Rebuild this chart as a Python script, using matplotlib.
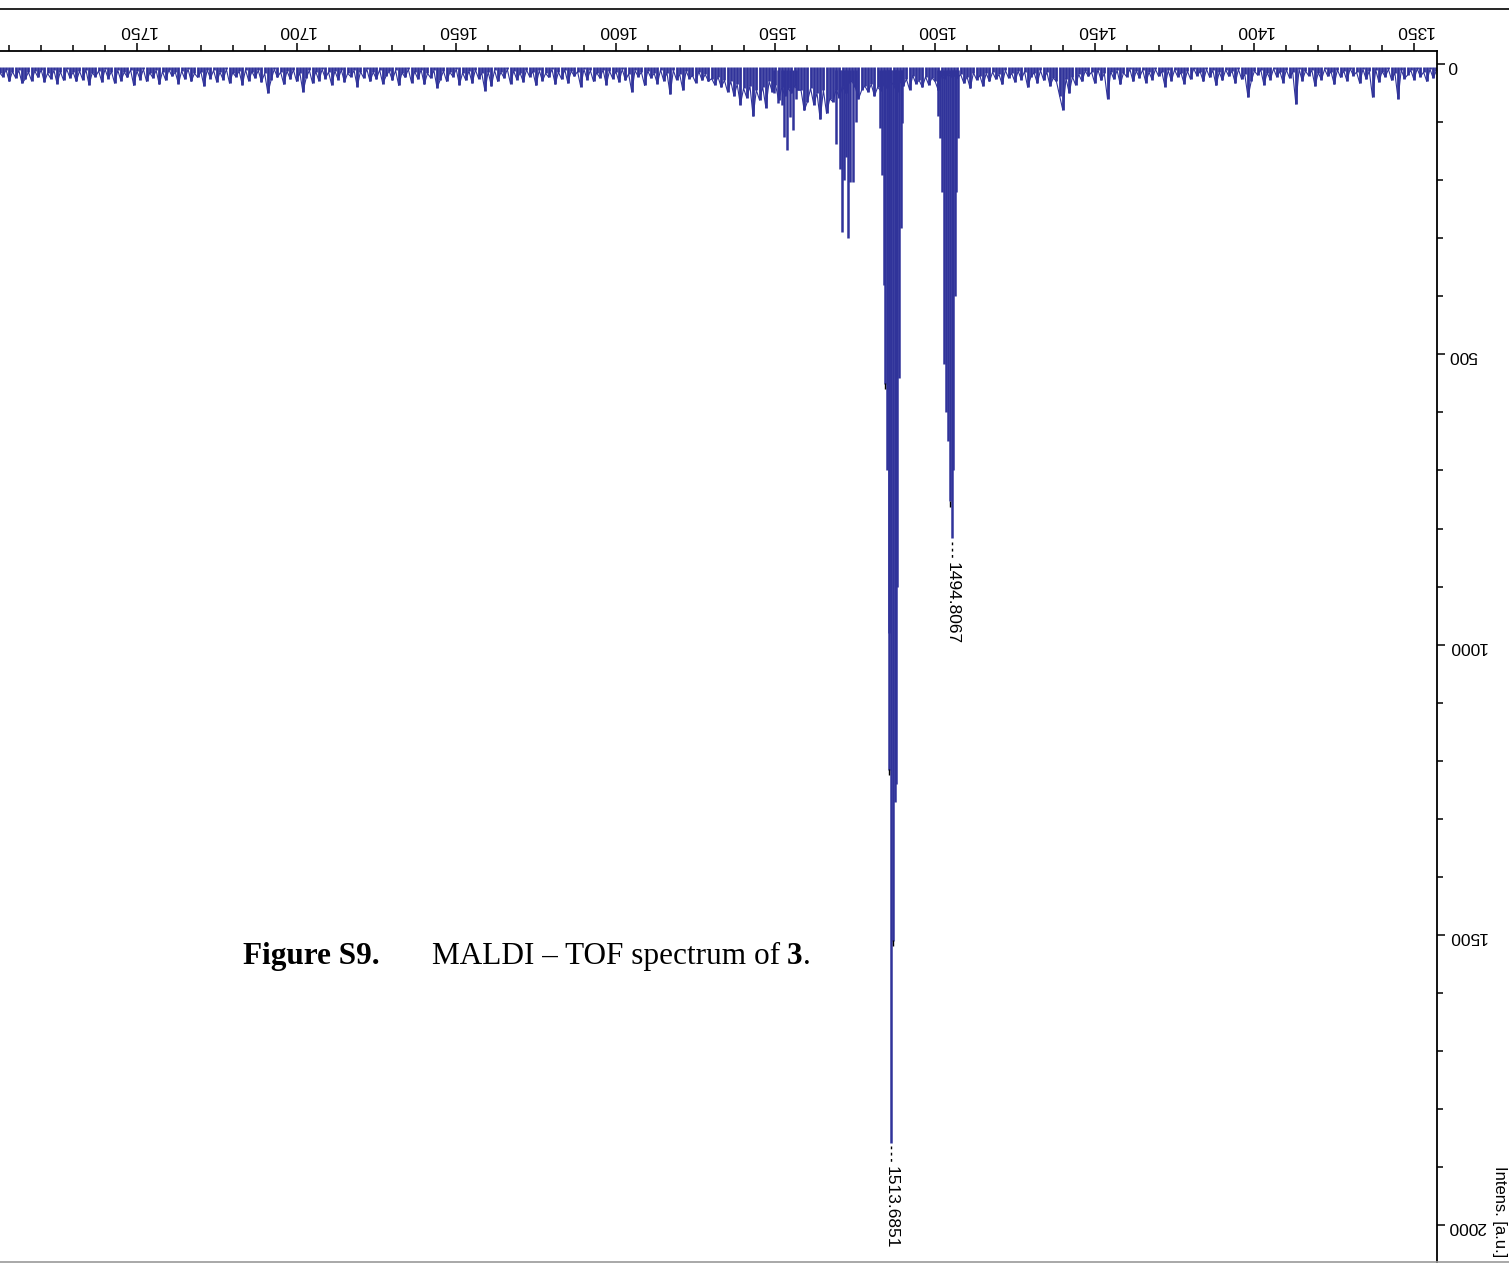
import numpy as np
import matplotlib.pyplot as plt
from matplotlib.lines import Line2D
from matplotlib.ticker import MultipleLocator

# baseline noise, one value per Da starting at 1343
noise_start = 1343
noise = [
    12, 24, 9, 30, 14, 22, 8, 27, 11, 19,
    25, 10, 60, 15, 28, 9, 22, 13, 31, 10,
    57, 12, 26, 9, 33, 14, 20, 8, 29, 12,
    23, 10, 35, 13, 21, 9, 27, 15, 38, 11,
    20, 12, 29, 9, 69, 14, 24, 10, 32, 13,
    22, 8, 27, 15, 36, 10, 19, 12, 30, 57,
    18, 26, 9, 33, 12, 21, 10, 28, 14, 37,
    11, 23, 9, 30, 13, 20, 8, 26, 12, 34,
    15, 22, 10, 29, 11, 39, 13, 21, 9, 27,
    14, 32, 10, 24, 12, 30, 9, 22, 15, 35,
    11, 26, 13, 60, 16, 28, 10, 33, 14, 21,
    12, 30, 18, 36, 22, 50, 25, 79, 55, 30,
    24, 38, 14, 28, 11, 33, 15, 22, 40, 13,
    27, 12, 31, 16, 24, 11, 35, 18, 26, 14,
    30, 16, 38, 20, 27, 15, 42, 22, 33, 18,
    24, 20, 22, 18, 26, 20, 45, 30, 24, 36,
    22, 40, 28, 34, 20, 44, 26, 38, 30, 48,
    36, 30, 42, 34, 46, 40, 55, 35, 48, 38,
    45, 60, 40, 30, 32, 50, 38, 58, 44, 65,
    60, 85, 45, 95, 50, 70, 42, 65, 80, 45,
    45, 38, 50, 42, 55, 40, 62, 36, 48, 30,
    75, 40, 62, 45, 90, 38, 58, 42, 70, 35,
    55, 30, 48, 28, 40, 22, 36, 25, 30, 18,
    28, 13, 32, 20, 25, 12, 45, 18, 27, 11,
    52, 15, 29, 10, 34, 16, 24, 12, 37, 14,
    22, 11, 48, 17, 28, 9, 31, 13, 25, 12,
    36, 10, 24, 15, 30, 11, 27, 9, 39, 13,
    21, 12, 33, 10, 26, 14, 35, 9, 23, 16,
    29, 11, 37, 13, 22, 10, 31, 15, 27, 12,
    34, 9, 24, 14, 30, 11, 38, 13, 46, 16,
    25, 10, 33, 12, 28, 15, 36, 9, 22, 14,
    30, 12, 27, 41, 11, 24, 16, 35, 10, 26,
    13, 32, 9, 23, 15, 37, 11, 28, 12, 21,
    34, 10, 26, 14, 30, 9, 24, 13, 39, 11,
    22, 16, 31, 10, 27, 12, 36, 14, 25, 9,
    29, 13, 33, 11, 24, 48, 15, 30, 10, 26,
    12, 35, 14, 23, 9, 28, 50, 16, 31, 11,
    24, 13, 29, 10, 36, 12, 22, 15, 33, 9,
    27, 14, 31, 11, 25, 10, 38, 13, 23, 16,
    30, 9, 26, 12, 34, 14, 21, 10, 28, 13,
    35, 11, 24, 15, 30, 9, 27, 12, 37, 10,
    23, 14, 29, 11, 33, 13, 25, 9, 31, 12,
    22, 15, 36, 10, 27, 12, 30, 14, 24, 9,
    28, 13, 34, 11, 25, 16, 31, 10, 23, 12,
    29, 14, 26, 33, 11, 24, 13, 30, 10, 22,
    15,
]

# isotope clusters
cluster_mz = [
    1550.4, 1549.2, 1547.9, 1547.3, 1546.4, 1545.4, 1544.5, 1543.6,
    1531.0, 1529.7, 1529.1, 1528.5, 1527.9, 1527.2, 1526.6, 1525.7, 1524.7,
    1517.3, 1516.6, 1516.0, 1515.6, 1515.1, 1514.6, 1514.3, 1513.69,
    1513.2, 1512.7, 1512.2, 1511.8, 1511.3, 1510.8, 1510.3,
    1499.0, 1498.5, 1497.9, 1497.2, 1496.6, 1496.0, 1495.4, 1494.81,
    1494.3, 1493.9, 1493.4, 1492.8,
]
cluster_int = [
    50, 67, 70, 126, 148, 91, 114, 60,
    137, 180, 290, 200, 160, 299, 204, 204, 100,
    110, 192, 380, 551, 700, 980, 1216, 1858,
    1510, 1271, 1240, 900, 540, 283, 102,
    90, 128, 221, 516, 600, 650, 753, 817,
    700, 400, 221, 128,
]

# small peak marks
mark_mz = [1515.6, 1514.3, 1513.2, 1495.4]
mark_int = [551, 1216, 1510, 753]

label_mz = [1513.6851, 1494.8067]
label_int = [1858, 817]
label_text = ['1513.6851', '1494.8067']

x_ticks = [1350, 1400, 1450, 1500, 1550, 1600, 1650, 1700, 1750]
y_ticks = [0, 500, 1000, 1500, 2000]

BLUE = '#30339a'
W, H = 1509, 1263
FS = 12.5

plt.rcParams['font.family'] = ['Liberation Sans', 'DejaVu Sans']

fig = plt.figure(figsize=(W / 100, H / 100), dpi=100)
ax = fig.add_axes([0, 0, 1437 / W, 1212 / H])

mz = np.arange(noise_start, noise_start + len(noise))
ax.vlines(mz, 6, noise, color=BLUE, lw=2.0)
ax.plot(mz, noise, color=BLUE, lw=0.8)
ax.vlines(cluster_mz, 10, cluster_int, color=BLUE, lw=1.8)
ax.plot(mark_mz, np.array(mark_int) + 4, ls='none', marker='|',
        color='black', ms=4, mew=1)

for m, i, t in zip(label_mz, label_int, label_text):
    ax.plot([m, m], [i + 6, i + 36], color='black', lw=1, ls=(0, (2, 2.5)))
    ax.text(m, i + 40, t, rotation=270, ha='center', va='top', fontsize=FS)

ax.set_xlim(1792.9, 1342.8)
ax.set_ylim(2065, -22.4)
ax.xaxis.tick_top()
ax.yaxis.tick_right()
ax.set_xticks(x_ticks)
ax.set_yticks(y_ticks)
ax.xaxis.set_minor_locator(MultipleLocator(10))
ax.yaxis.set_minor_locator(MultipleLocator(100))
ax.tick_params(axis='x', which='both', labelrotation=180, pad=3)
ax.tick_params(axis='y', which='both', labelrotation=180, pad=2)
ax.tick_params(which='major', length=6, width=1.1, labelsize=FS)
ax.tick_params(which='minor', length=4, width=1.1)
for s in ['left', 'bottom']:
    ax.spines[s].set_visible(False)
for s in ['top', 'right']:
    ax.spines[s].set_linewidth(1.3)

fig.text(1500 / W, 1 - 1166 / H, 'Intens. [a.u.]', rotation=270,
         ha='center', va='top', fontsize=12)

# page rules
fig.add_artist(Line2D([0, 1], [1 - 9 / H] * 2, color='black', lw=1.2,
                      transform=fig.transFigure))
fig.add_artist(Line2D([0, 1], [0.6 / H] * 2, color='#999999', lw=1.2,
                      transform=fig.transFigure))

# caption
cap_y = 1 - 964 / H
serif = ['Liberation Serif', 'DejaVu Serif']
fig.text(243 / W, cap_y, 'Figure S9.', fontsize=22.5, fontweight='bold',
         family=serif, va='baseline')
t1 = fig.text(432 / W, cap_y, 'MALDI \u2013 TOF spectrum of', fontsize=22.5,
              family=serif, va='baseline')
fig.canvas.draw()
x1 = t1.get_window_extent().x1 + 7
t2 = fig.text(x1 / W, cap_y, '3', fontsize=22.5, fontweight='bold',
              family=serif, va='baseline')
fig.canvas.draw()
x2 = t2.get_window_extent().x1
fig.text(x2 / W, cap_y, '.', fontsize=22.5, family=serif, va='baseline')

fig.savefig('out.png', dpi=100)
